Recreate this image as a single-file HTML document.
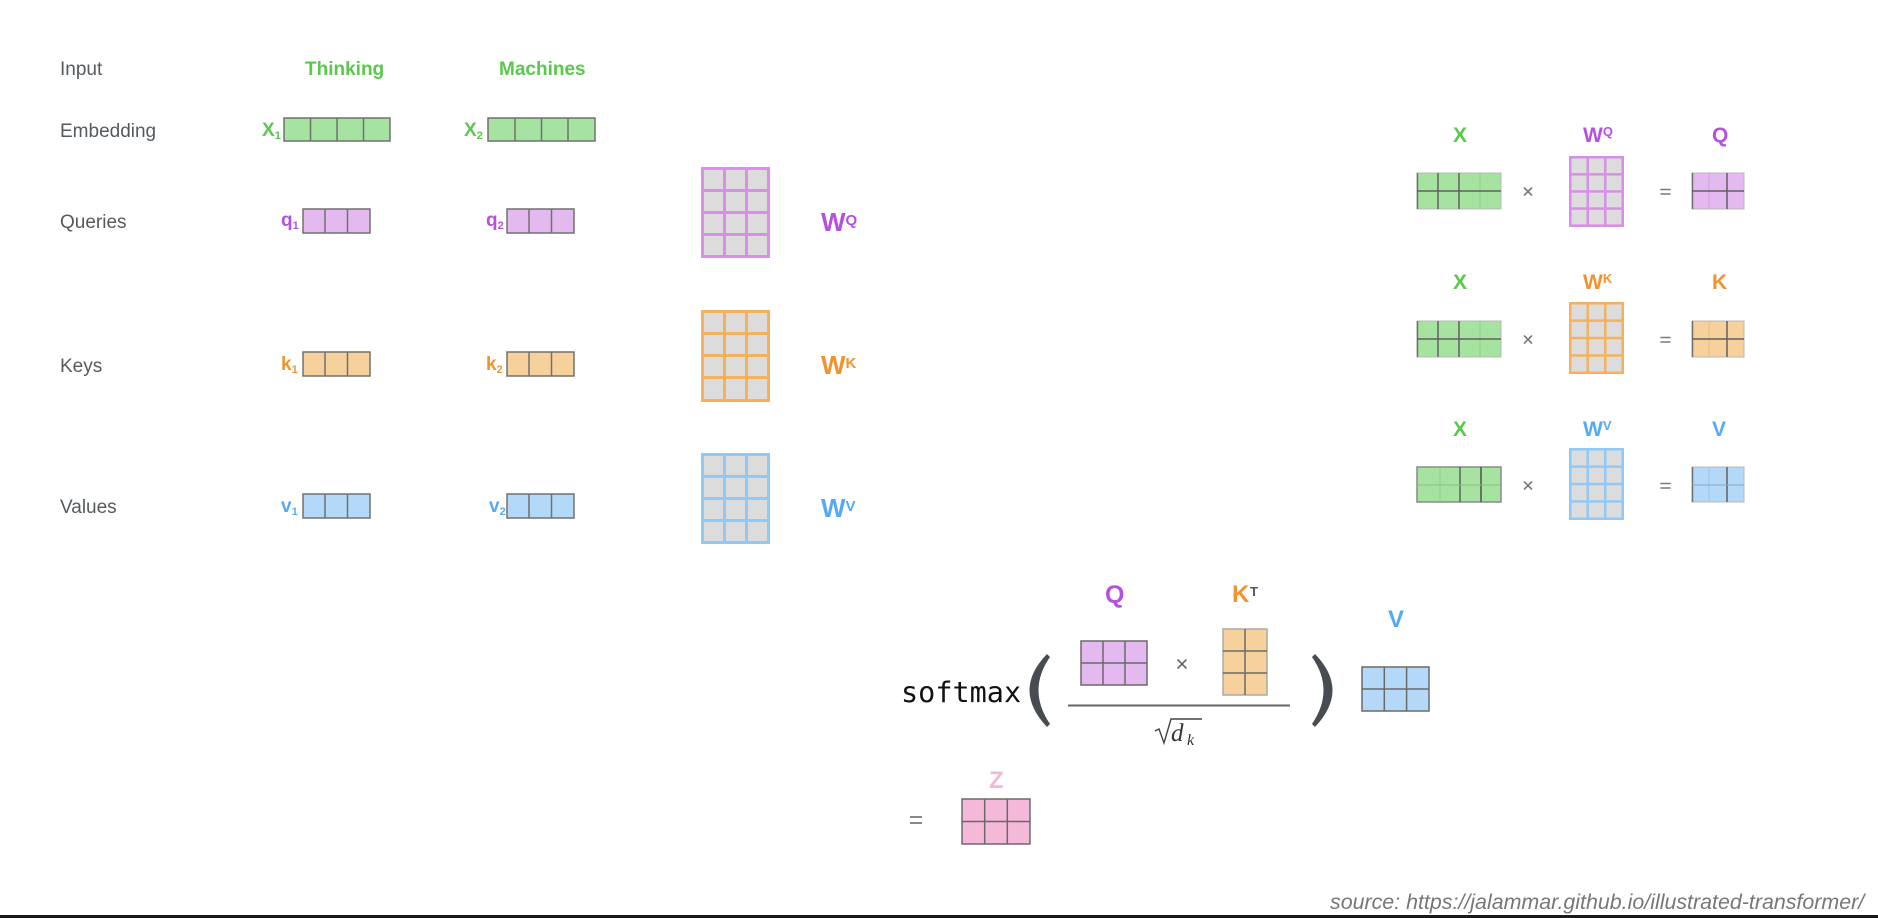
<!DOCTYPE html>
<html>
<head>
<meta charset="utf-8">
<style>
html,body{margin:0;padding:0;background:#fff;}
svg{display:block;}
.sans{font-family:"Liberation Sans",Arial,sans-serif;}
.mono{font-family:"DejaVu Sans Mono","Liberation Mono",monospace;}
.serif{font-family:"Liberation Serif","DejaVu Serif",serif;}
</style>
</head>
<body>
<svg width="1878" height="918" viewBox="0 0 1878 918" xmlns="http://www.w3.org/2000/svg">
<rect x="0" y="0" width="1878" height="918" fill="#ffffff"/>

<!-- Left row labels -->
<g class="sans" fill="#555a5e" font-size="19">
<text x="60" y="75">Input</text>
<text x="60" y="137">Embedding</text>
<text x="60" y="228">Queries</text>
<text x="60" y="372">Keys</text>
<text x="60" y="513">Values</text>
</g>

<!-- Words -->
<g class="sans" fill="#5ac84b" font-weight="bold" font-size="19">
<text x="305" y="75">Thinking</text>
<text x="499" y="75">Machines</text>
</g>

<!-- Vector labels -->
<g class="sans" font-weight="bold">
<text x="262" y="136" font-size="19" fill="#5ac84b">X<tspan font-size="11" dy="3">1</tspan></text>
<text x="464" y="136" font-size="19" fill="#5ac84b">X<tspan font-size="11" dy="3">2</tspan></text>
<text x="281" y="226" font-size="19" fill="#b650e0">q<tspan font-size="11" dy="3">1</tspan></text>
<text x="486" y="226" font-size="19" fill="#b650e0">q<tspan font-size="11" dy="3">2</tspan></text>
<text x="281" y="370" font-size="19" fill="#f2922e">k<tspan font-size="11" dy="3">1</tspan></text>
<text x="486" y="370" font-size="19" fill="#f2922e">k<tspan font-size="11" dy="3">2</tspan></text>
<text x="281" y="512" font-size="19" fill="#55a9f5">v<tspan font-size="11" dy="3">1</tspan></text>
<text x="489" y="512" font-size="19" fill="#55a9f5">v<tspan font-size="11" dy="3">2</tspan></text>
</g>

<!-- Left vectors -->
<g stroke="#707070" stroke-width="1.5">
<rect x="284" y="118" width="106" height="23" fill="#a6e3a0"/>
<line x1="310.5" y1="118" x2="310.5" y2="141"/><line x1="337" y1="118" x2="337" y2="141"/><line x1="363.5" y1="118" x2="363.5" y2="141"/>
<rect x="488" y="118" width="107" height="23" fill="#a6e3a0"/>
<line x1="515" y1="118" x2="515" y2="141"/><line x1="541.5" y1="118" x2="541.5" y2="141"/><line x1="568" y1="118" x2="568" y2="141"/>
<rect x="303" y="209" width="67" height="24" fill="#e3b9f0"/>
<line x1="325" y1="209" x2="325" y2="233"/><line x1="347.5" y1="209" x2="347.5" y2="233"/>
<rect x="507" y="209" width="67" height="24" fill="#e3b9f0"/>
<line x1="529" y1="209" x2="529" y2="233"/><line x1="551.5" y1="209" x2="551.5" y2="233"/>
<rect x="303" y="352" width="67" height="24" fill="#f7d19b"/>
<line x1="325" y1="352" x2="325" y2="376"/><line x1="347.5" y1="352" x2="347.5" y2="376"/>
<rect x="507" y="352" width="67" height="24" fill="#f7d19b"/>
<line x1="529" y1="352" x2="529" y2="376"/><line x1="551.5" y1="352" x2="551.5" y2="376"/>
<rect x="303" y="494" width="67" height="24" fill="#b4d9f8"/>
<line x1="325" y1="494" x2="325" y2="518"/><line x1="347.5" y1="494" x2="347.5" y2="518"/>
<rect x="507" y="494" width="67" height="24" fill="#b4d9f8"/>
<line x1="529" y1="494" x2="529" y2="518"/><line x1="551.5" y1="494" x2="551.5" y2="518"/>
</g>

<!-- Left weight matrices -->
<g>
<rect x="701" y="167" width="69" height="91" fill="#d98ee8"/>
<rect x="701" y="310" width="69" height="92" fill="#f5b25e"/>
<rect x="701" y="453" width="69" height="91" fill="#90c9f8"/>
<g fill="#dcdcdc">
<rect x="704" y="170" width="19" height="19"/><rect x="726" y="170" width="19" height="19"/><rect x="748" y="170" width="19" height="19"/>
<rect x="704" y="192" width="19" height="19"/><rect x="726" y="192" width="19" height="19"/><rect x="748" y="192" width="19" height="19"/>
<rect x="704" y="214" width="19" height="19"/><rect x="726" y="214" width="19" height="19"/><rect x="748" y="214" width="19" height="19"/>
<rect x="704" y="236" width="19" height="19"/><rect x="726" y="236" width="19" height="19"/><rect x="748" y="236" width="19" height="19"/>
<rect x="704" y="313" width="19" height="19"/><rect x="726" y="313" width="19" height="19"/><rect x="748" y="313" width="19" height="19"/>
<rect x="704" y="335" width="19" height="19"/><rect x="726" y="335" width="19" height="19"/><rect x="748" y="335" width="19" height="19"/>
<rect x="704" y="357" width="19" height="19"/><rect x="726" y="357" width="19" height="19"/><rect x="748" y="357" width="19" height="19"/>
<rect x="704" y="379" width="19" height="20"/><rect x="726" y="379" width="19" height="20"/><rect x="748" y="379" width="19" height="20"/>
<rect x="704" y="456" width="19" height="19"/><rect x="726" y="456" width="19" height="19"/><rect x="748" y="456" width="19" height="19"/>
<rect x="704" y="478" width="19" height="19"/><rect x="726" y="478" width="19" height="19"/><rect x="748" y="478" width="19" height="19"/>
<rect x="704" y="500" width="19" height="19"/><rect x="726" y="500" width="19" height="19"/><rect x="748" y="500" width="19" height="19"/>
<rect x="704" y="522" width="19" height="19"/><rect x="726" y="522" width="19" height="19"/><rect x="748" y="522" width="19" height="19"/>
</g>
</g>

<!-- Left W labels -->
<g class="sans" font-weight="bold">
<text x="821" y="231" font-size="26" fill="#b650e0">W<tspan font-size="15" dy="-6">Q</tspan></text>
<text x="821" y="374" font-size="26" fill="#f2922e">W<tspan font-size="15" dy="-6">K</tspan></text>
<text x="821" y="517" font-size="26" fill="#55a9f5">W<tspan font-size="15" dy="-6">V</tspan></text>
</g>

<!-- Right side labels -->
<g class="sans" font-weight="bold" font-size="21">
<text x="1453" y="142" fill="#5ac84b">X</text>
<text x="1583" y="142" fill="#b650e0">W<tspan font-size="13" dy="-6">Q</tspan></text>
<text x="1712" y="142" fill="#b650e0">Q</text>
<text x="1453" y="289" fill="#5ac84b">X</text>
<text x="1583" y="289" fill="#f2922e">W<tspan font-size="13" dy="-6">K</tspan></text>
<text x="1712" y="289" fill="#f2922e">K</text>
<text x="1453" y="436" fill="#5ac84b">X</text>
<text x="1583" y="436" fill="#55a9f5">W<tspan font-size="13" dy="-6">V</tspan></text>
<text x="1712" y="436" fill="#55a9f5">V</text>
</g>

<!-- Right X matrices -->
<g>
<rect x="1417" y="173" width="84" height="36" fill="#a6e3a0" stroke="#b8b8b8" stroke-width="1"/>
<line x1="1417.5" y1="173" x2="1417.5" y2="209" stroke="#707070" stroke-width="1.5"/>
<line x1="1438" y1="173" x2="1438" y2="209" stroke="#606060" stroke-width="1.5"/>
<line x1="1459" y1="173" x2="1459" y2="209" stroke="#606060" stroke-width="1.5"/>
<line x1="1480" y1="173" x2="1480" y2="209" stroke="#8fc98a" stroke-width="1"/>
<line x1="1417" y1="191" x2="1501" y2="191" stroke="#606060" stroke-width="1.5"/>
<rect x="1417" y="321" width="84" height="36" fill="#a6e3a0" stroke="#b8b8b8" stroke-width="1"/>
<line x1="1417.5" y1="321" x2="1417.5" y2="357" stroke="#707070" stroke-width="1.5"/>
<line x1="1438" y1="321" x2="1438" y2="357" stroke="#606060" stroke-width="1.5"/>
<line x1="1459" y1="321" x2="1459" y2="357" stroke="#606060" stroke-width="1.5"/>
<line x1="1480" y1="321" x2="1480" y2="357" stroke="#8fc98a" stroke-width="1"/>
<line x1="1417" y1="339" x2="1501" y2="339" stroke="#606060" stroke-width="1.5"/>
<rect x="1417" y="467" width="84" height="35" fill="#a6e3a0" stroke="#8a8a8a" stroke-width="1.5"/>
<line x1="1440" y1="467" x2="1440" y2="502" stroke="#8fc98a" stroke-width="1"/>
<line x1="1460" y1="467" x2="1460" y2="502" stroke="#606060" stroke-width="1.5"/>
<line x1="1481" y1="467" x2="1481" y2="502" stroke="#505050" stroke-width="1.5"/>
<line x1="1417" y1="485" x2="1501" y2="485" stroke="#8fb98a" stroke-width="1"/>
</g>

<!-- Right result matrices -->
<g>
<rect x="1692" y="173" width="52" height="36" fill="#e3b9f0" stroke="#b8b8b8" stroke-width="1"/>
<line x1="1692.5" y1="173" x2="1692.5" y2="209" stroke="#707070" stroke-width="1.5"/>
<line x1="1709" y1="173" x2="1709" y2="209" stroke="#d3a3e2" stroke-width="1"/>
<line x1="1727" y1="173" x2="1727" y2="209" stroke="#606060" stroke-width="1.5"/>
<line x1="1692" y1="191" x2="1744" y2="191" stroke="#606060" stroke-width="1.5"/>
<rect x="1692" y="321" width="52" height="36" fill="#f7d19b" stroke="#b8b8b8" stroke-width="1"/>
<line x1="1692.5" y1="321" x2="1692.5" y2="357" stroke="#707070" stroke-width="1.5"/>
<line x1="1709" y1="321" x2="1709" y2="357" stroke="#e6bd85" stroke-width="1"/>
<line x1="1727" y1="321" x2="1727" y2="357" stroke="#606060" stroke-width="1.5"/>
<line x1="1692" y1="339" x2="1744" y2="339" stroke="#606060" stroke-width="1.5"/>
<rect x="1692" y="467" width="52" height="35" fill="#b4d9f8" stroke="#b8b8b8" stroke-width="1"/>
<line x1="1692.5" y1="467" x2="1692.5" y2="502" stroke="#707070" stroke-width="1.5"/>
<line x1="1709" y1="467" x2="1709" y2="502" stroke="#9cc4e6" stroke-width="1"/>
<line x1="1727" y1="467" x2="1727" y2="502" stroke="#606060" stroke-width="1.5"/>
<line x1="1692" y1="485" x2="1744" y2="485" stroke="#8aa6c0" stroke-width="1"/>
</g>

<!-- Right weight matrices -->
<g>
<rect x="1569" y="156" width="55" height="71" fill="#d98ee8"/>
<rect x="1569" y="302" width="55" height="72" fill="#f5b25e"/>
<rect x="1569" y="448" width="55" height="72" fill="#90c9f8"/>
<g fill="#dcdcdc">
<rect x="1571.5" y="158.5" width="15" height="14.6"/><rect x="1589" y="158.5" width="15" height="14.6"/><rect x="1606.5" y="158.5" width="15" height="14.6"/>
<rect x="1571.5" y="175.6" width="15" height="14.6"/><rect x="1589" y="175.6" width="15" height="14.6"/><rect x="1606.5" y="175.6" width="15" height="14.6"/>
<rect x="1571.5" y="192.7" width="15" height="14.6"/><rect x="1589" y="192.7" width="15" height="14.6"/><rect x="1606.5" y="192.7" width="15" height="14.6"/>
<rect x="1571.5" y="209.8" width="15" height="14.6"/><rect x="1589" y="209.8" width="15" height="14.6"/><rect x="1606.5" y="209.8" width="15" height="14.6"/>
<rect x="1571.5" y="304.5" width="15" height="14.9"/><rect x="1589" y="304.5" width="15" height="14.9"/><rect x="1606.5" y="304.5" width="15" height="14.9"/>
<rect x="1571.5" y="321.9" width="15" height="14.9"/><rect x="1589" y="321.9" width="15" height="14.9"/><rect x="1606.5" y="321.9" width="15" height="14.9"/>
<rect x="1571.5" y="339.3" width="15" height="14.9"/><rect x="1589" y="339.3" width="15" height="14.9"/><rect x="1606.5" y="339.3" width="15" height="14.9"/>
<rect x="1571.5" y="356.7" width="15" height="14.9"/><rect x="1589" y="356.7" width="15" height="14.9"/><rect x="1606.5" y="356.7" width="15" height="14.9"/>
<rect x="1571.5" y="450.5" width="15" height="14.9"/><rect x="1589" y="450.5" width="15" height="14.9"/><rect x="1606.5" y="450.5" width="15" height="14.9"/>
<rect x="1571.5" y="467.9" width="15" height="14.9"/><rect x="1589" y="467.9" width="15" height="14.9"/><rect x="1606.5" y="467.9" width="15" height="14.9"/>
<rect x="1571.5" y="485.3" width="15" height="14.9"/><rect x="1589" y="485.3" width="15" height="14.9"/><rect x="1606.5" y="485.3" width="15" height="14.9"/>
<rect x="1571.5" y="502.7" width="15" height="14.9"/><rect x="1589" y="502.7" width="15" height="14.9"/><rect x="1606.5" y="502.7" width="15" height="14.9"/>
</g>
</g>

<!-- Right × and = -->
<g stroke="#7a7a7a" stroke-width="1.6" stroke-linecap="round">
<line x1="1524.5" y1="188" x2="1531.5" y2="195"/><line x1="1531.5" y1="188" x2="1524.5" y2="195"/>
<line x1="1524.5" y1="336" x2="1531.5" y2="343"/><line x1="1531.5" y1="336" x2="1524.5" y2="343"/>
<line x1="1524.5" y1="482" x2="1531.5" y2="489"/><line x1="1531.5" y1="482" x2="1524.5" y2="489"/>
<line x1="1661" y1="189.5" x2="1670" y2="189.5"/><line x1="1661" y1="194" x2="1670" y2="194"/>
<line x1="1661" y1="337.5" x2="1670" y2="337.5"/><line x1="1661" y1="342" x2="1670" y2="342"/>
<line x1="1661" y1="483.5" x2="1670" y2="483.5"/><line x1="1661" y1="488" x2="1670" y2="488"/>
</g>

<!-- Softmax formula -->
<text class="mono" x="901" y="702" font-size="28.5" fill="#111">softmax</text>
<path d="M1047,654 Q1012,690 1047,727 L1050,724 Q1027,690 1050,657 Z" fill="#464c51"/>
<path d="M1315,654 Q1350,690 1315,727 L1312,724 Q1335,690 1312,657 Z" fill="#464c51"/>

<g class="sans" font-weight="bold">
<text x="1105" y="603" font-size="25" fill="#b650e0">Q</text>
<text x="1232" y="602" font-size="24" fill="#f2922e">K</text>
<text x="1250" y="596" font-size="13" fill="#555">T</text>
<text x="1388" y="627" font-size="24" fill="#55a9f5">V</text>
<text x="989" y="788" font-size="24" fill="#f4b8d6">Z</text>
</g>

<g stroke="#6a6a6a" stroke-width="1.5">
<rect x="1081" y="641" width="66" height="44" fill="#e3b9f0"/>
<line x1="1103" y1="641" x2="1103" y2="685"/><line x1="1125" y1="641" x2="1125" y2="685"/>
<line x1="1081" y1="663" x2="1147" y2="663"/>
<rect x="1223" y="629" width="44" height="66" fill="#f7d19b" stroke="#aaaaaa"/>
<line x1="1245" y1="629" x2="1245" y2="695"/>
<line x1="1223" y1="651" x2="1267" y2="651"/><line x1="1223" y1="673" x2="1267" y2="673"/>
<rect x="1362" y="667" width="67" height="44" fill="#b4d9f8"/>
<line x1="1384.3" y1="667" x2="1384.3" y2="711"/><line x1="1406.6" y1="667" x2="1406.6" y2="711"/>
<line x1="1362" y1="689" x2="1429" y2="689"/>
<rect x="962" y="799" width="68" height="45" fill="#f4b8d8"/>
<line x1="984.7" y1="799" x2="984.7" y2="844"/><line x1="1007.3" y1="799" x2="1007.3" y2="844"/>
<line x1="962" y1="821.5" x2="1030" y2="821.5"/>
</g>

<g stroke="#666" stroke-width="1.6" stroke-linecap="round">
<line x1="1178" y1="660" x2="1186" y2="668"/><line x1="1186" y1="660" x2="1178" y2="668"/>
</g>
<g stroke="#888" stroke-width="2">
<line x1="910" y1="817" x2="922" y2="817"/><line x1="910" y1="823" x2="922" y2="823"/>
</g>

<line x1="1068" y1="705.5" x2="1290" y2="705.5" stroke="#666" stroke-width="2"/>
<path d="M1155,731 L1159,729 L1164,743 L1171,719 L1202,719" fill="none" stroke="#444" stroke-width="1.4"/>
<text class="serif" x="1171" y="741" font-style="italic" font-size="25" fill="#333">d</text>
<text class="serif" x="1187" y="745" font-style="italic" font-size="16" fill="#333">k</text>

<text class="sans" x="1330" y="909" font-size="21.4" font-style="italic" fill="#777">source: https://jalammar.github.io/illustrated-transformer/</text>

<rect x="0" y="915" width="1878" height="3" fill="#1a1a1a"/>
</svg>
</body>
</html>
